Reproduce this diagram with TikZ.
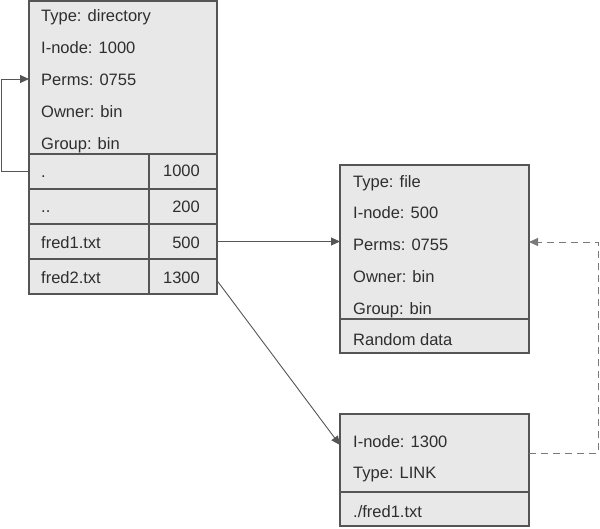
\documentclass[tikz,border=0pt]{standalone}
\usepackage{fontspec}
\setmainfont{Liberation Sans}
\usetikzlibrary{arrows.meta}
\definecolor{boxfill}{HTML}{E8E8E8}
\definecolor{linec}{HTML}{555555}
\definecolor{textc}{HTML}{2E2E2E}
\definecolor{dashc}{HTML}{7A7A7A}
\begin{document}
\begin{tikzpicture}[x=1pt,y=-1pt,
  cell/.style={draw=linec, fill=boxfill, line width=1.1pt, inner sep=0pt, outer sep=0pt, anchor=north west},
  lbl/.style={anchor=base west, text=textc, font=\fontsize{16.5}{18}\selectfont, inner sep=0pt},
  num/.style={anchor=base east, text=textc, font=\fontsize{16.5}{18}\selectfont, inner sep=0pt},
  conn/.style={draw=linec, line width=0.9pt, -{Triangle[length=9pt,width=8pt]}},
  dconn/.style={draw=dashc, line width=1pt, dash pattern=on 7pt off 5pt, -{Triangle[length=9pt,width=8pt]}}
]
\useasboundingbox (0,0) rectangle (600,528);

% directory inode
\node[cell, minimum width=188pt, minimum height=153pt] (dirhead) at (29,1) {};
\node[cell, minimum width=120pt, minimum height=35pt] (r1) at (29,154) {};
\node[cell, minimum width=68pt, minimum height=35pt] (n1) at (149,154) {};
\node[cell, minimum width=120pt, minimum height=35pt] (r2) at (29,189) {};
\node[cell, minimum width=68pt, minimum height=35pt] (n2) at (149,189) {};
\node[cell, minimum width=120pt, minimum height=35pt] (r3) at (29,224) {};
\node[cell, minimum width=68pt, minimum height=35pt] (n3) at (149,224) {};
\node[cell, minimum width=120pt, minimum height=35pt] (r4) at (29,259) {};
\node[cell, minimum width=68pt, minimum height=35pt] (n4) at (149,259) {};

\node[lbl] (d1) at (41,21) {Type: directory};
\node[lbl] (d2) at (41,53) {I-node: 1000};
\node[lbl] (d3) at (41,85) {Perms: 0755};
\node[lbl] (d4) at (41,117) {Owner: bin};
\node[lbl] (d5) at (41,149) {Group: bin};

\node[lbl] (e1) at (41,177) {.};
\node[lbl] (e2) at (41,212) {..};
\node[lbl] (e3) at (41,248) {fred1.txt};
\node[lbl] (e4) at (41,283) {fred2.txt};
\node[num] (v1) at (200,176) {1000};
\node[num] (v2) at (200,212) {200};
\node[num] (v3) at (200,248) {500};
\node[num] (v4) at (200,283) {1300};

% file inode
\node[cell, minimum width=189pt, minimum height=154pt] (filehead) at (340,165) {};
\node[cell, minimum width=189pt, minimum height=34pt] (filedata) at (340,319) {};
\node[lbl] (f1) at (353,187) {Type: file};
\node[lbl] (f2) at (353,218) {I-node: 500};
\node[lbl] (f3) at (353,250) {Perms: 0755};
\node[lbl] (f4) at (353,282) {Owner: bin};
\node[lbl] (f5) at (353,314) {Group: bin};
\node[lbl] (f6) at (353,345) {Random data};

% link inode
\node[cell, minimum width=189pt, minimum height=78pt] (linkhead) at (340,414) {};
\node[cell, minimum width=189pt, minimum height=34pt] (linkdata) at (340,492) {};
\node[lbl] (l1) at (353,447) {I-node: 1300};
\node[lbl] (l2) at (353,478) {Type: LINK};
\node[lbl] (l3) at (353,517) {./fred1.txt};

% connectors
\coordinate (loopx) at (1,0);
\draw[conn] (r1.west) -- (r1.west -| loopx) |- ([yshift=6pt]d3.base -| dirhead.west);
\draw[conn] (n3.east) -- (n3.east -| filehead.west);
\draw[conn] ([yshift=-4pt]n4.east) -- ([yshift=-31pt]linkhead.north west);
\coordinate (dashx) at (598,0);
\draw[dconn] ([yshift=-39pt]linkhead.north east) -- ([yshift=-39pt]linkhead.north east -| dashx) |- ([yshift=-77pt]filehead.north east);
\end{tikzpicture}
\end{document}
